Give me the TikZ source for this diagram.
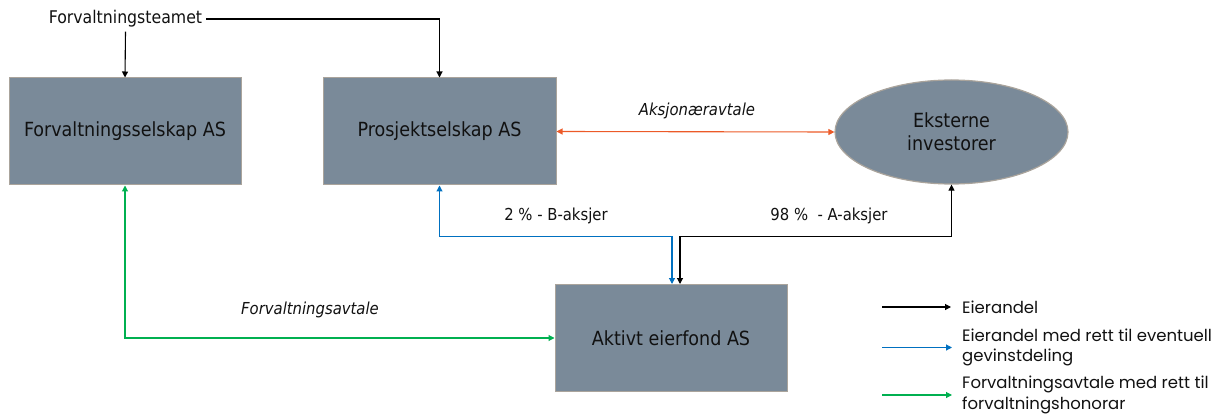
\documentclass[tikz,border=0pt]{standalone}
\usepackage{fontspec}
\setmainfont{DejaVu Sans Condensed}
\newfontfamily\legendfont{Poppins}
\usetikzlibrary{arrows.meta,shapes.geometric,calc}

\definecolor{boxfill}{RGB}{122,138,153}
\definecolor{boxline}{RGB}{170,164,156}
\definecolor{agreeorange}{RGB}{236,90,40}
\definecolor{shareblue}{RGB}{0,112,192}
\definecolor{feegreen}{RGB}{0,176,80}
\definecolor{ink}{RGB}{17,17,17}

\begin{document}
\begin{tikzpicture}[x=1pt,y=-1pt,
  entity/.style={draw=boxline, line width=1pt, fill=boxfill, text=ink,
    minimum width=232pt, minimum height=107pt, inner sep=0pt,
    font=\fontsize{19.5}{23}\selectfont},
  investor/.style={ellipse, draw=boxline, line width=1.2pt, fill=boxfill, text=ink,
    minimum width=233pt, minimum height=104pt, inner sep=0pt, align=center,
    font=\fontsize{19.5}{23}\selectfont},
  lbl/.style={text=ink, font=\fontsize{16.5}{19}\selectfont, inner sep=0pt},
  lbli/.style={lbl, font=\fontsize{16.5}{19}\selectfont\itshape},
  legtext/.style={text=ink, anchor=west, align=left, inner sep=0pt,
    font=\legendfont\fontsize{16.5}{20.5}\selectfont},
  own/.style={draw=black, line width=1.1pt, -{Triangle[length=6pt,width=6pt]}},
  owntwo/.style={draw=black, line width=1.1pt, {Triangle[length=6pt,width=6pt]}-{Triangle[length=6pt,width=6pt]}},
  bshare/.style={draw=shareblue, line width=1.1pt, {Triangle[length=6pt,width=6pt]}-{Triangle[length=6pt,width=6pt]}},
  mgmt/.style={draw=feegreen, line width=1.1pt, {Triangle[length=6pt,width=6pt]}-{Triangle[length=6pt,width=6pt]}},
  pact/.style={draw=agreeorange, line width=1.1pt, {Triangle[length=6pt,width=6pt]}-{Triangle[length=6pt,width=6pt]}},
  legblack/.style={draw=black, line width=1.1pt, -{Triangle[length=6pt,width=6pt]}, shorten >=11pt},
  legblue/.style={draw=shareblue, line width=1.1pt, -{Triangle[length=6pt,width=6pt]}, shorten >=10pt},
  leggreen/.style={draw=feegreen, line width=1.1pt, -{Triangle[length=6pt,width=6pt]}, shorten >=10pt}
]
\useasboundingbox (0,0) rectangle (1226,414);

% companies and investors
\node[entity] (fs) at (125,131.5) {Forvaltningsselskap AS};
\node[entity, minimum width=233pt] (ps) at (439.5,131.5) {Prosjektselskap AS};
\node[investor] (ek) at (951.5,132) {Eksterne\\investorer};
\node[entity] (ae) at (671,338) {Aktivt eierfond AS};

% management team on top
\node[lbl, font=\fontsize{17.5}{20}\selectfont, inner sep=4pt] (team) at (125.5,19) {Forvaltningsteamet};
\draw[own] (team.south) -- (fs.north);
\draw[own] (team.east) -| (ps.north);

% shareholder agreement
\draw[pact] (ps.east) -- (ek.west);
\node[lbli] (pactlbl) at (697,111) {Aksjonæravtale};

% share classes
\draw[bshare] (ps.south) -- ++(0,51) -| ($(ae.north)+(1,0)$);
\node[lbl] (blbl) at (556,216) {2 \% - B-aksjer};
\draw[owntwo] (ek.south) -- ++(0,52) -| ($(ae.north)+(9,0)$);
\node[lbl] (albl) at (829,216) {98 \%\ \ - A-aksjer};

% management agreement
\draw[mgmt] (fs.south) |- (ae.west);
\node[lbli] (mgmtlbl) at (310,310) {Forvaltningsavtale};

% legend
\node[legtext] (leg1) at (962,307) {Eierandel};
\coordinate (leg1s) at (882,307);
\draw[legblack] (leg1s) -- (leg1.west);
\node[legtext] (leg2) at (962,347.5) {Eierandel med rett til eventuell\\gevinstdeling};
\coordinate (leg2s) at (882,347.5);
\draw[legblue] (leg2s) -- (leg2.west);
\node[legtext] (leg3) at (962,395) {Forvaltningsavtale med rett til\\forvaltningshonorar};
\coordinate (leg3s) at (882,395);
\draw[leggreen] (leg3s) -- (leg3.west);
\end{tikzpicture}
\end{document}
